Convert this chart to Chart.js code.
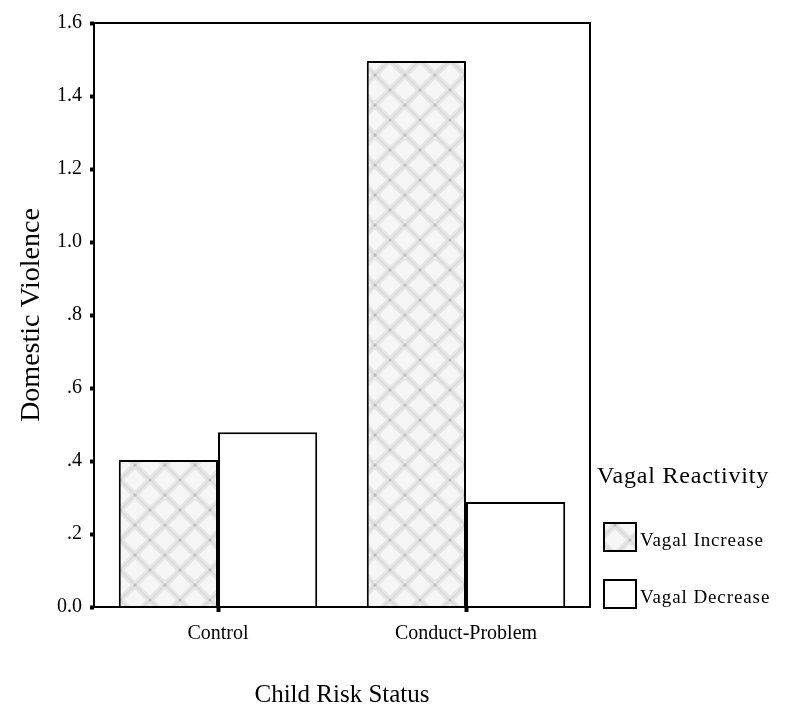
<!DOCTYPE html>
<html><head><meta charset="utf-8">
<script src="https://cdn.jsdelivr.net/npm/chart.js@4/dist/chart.umd.min.js"></script>
<style>html,body{margin:0;padding:0;background:#fff;}#wrap{width:792px;height:721px;}</style>
</head><body><div id="wrap"><canvas id="c" width="792" height="721"></canvas></div>
<script>
const categories = ['Control', 'Conduct-Problem'];
const seriesNames = ['Vagal Increase', 'Vagal Decrease'];
const vagalIncrease = [0.403, 1.496];
const vagalDecrease = [0.479, 0.288];
const yTickValues = [0, 0.2, 0.4, 0.6, 0.8, 1.0, 1.2, 1.4, 1.6];
const legendTitle = 'Vagal Reactivity';
const xAxisTitle = 'Child Risk Status';
const yAxisTitle = 'Domestic Violence';

const SERIF = "'Liberation Serif', 'Times New Roman', serif";

function makePattern() {
  const t = document.createElement('canvas');
  t.width = 30; t.height = 30;
  const g = t.getContext('2d');
  g.fillStyle = '#f6f6f6';
  g.fillRect(0, 0, 30, 30);
  g.lineCap = 'square';
  g.strokeStyle = 'rgba(215,215,215,0.5)';
  g.lineWidth = 6;
  g.beginPath();
  g.moveTo(-2, -2); g.lineTo(32, 32);
  g.moveTo(32, -2); g.lineTo(-2, 32);
  g.stroke();
  g.strokeStyle = '#dcdcdc';
  g.lineWidth = 2;
  g.beginPath();
  g.moveTo(-2, -2); g.lineTo(32, 32);
  g.moveTo(32, -2); g.lineTo(-2, 32);
  g.stroke();
  g.fillStyle = '#bcbcbc';
  [[0,0],[30,0],[0,30],[30,30],[15,15]].forEach(([x,y]) => {
    g.beginPath(); g.arc(x, y, 1.6, 0, Math.PI*2); g.fill();
  });
  return g.createPattern(t, 'repeat');
}
const hatch = makePattern();
const fills = [hatch, '#ffffff'];

function fmtTick(v) {
  const s = Number(v).toFixed(1);
  return (v > 0 && v < 1) ? s.substring(1) : s;
}

const framePlugin = {
  id: 'frame',
  afterDraw(chart) {
    const {ctx, chartArea: a} = chart;
    ctx.save();
    ctx.strokeStyle = '#000';
    ctx.lineWidth = 2;
    ctx.strokeRect(a.left, a.top, a.right - a.left, a.bottom - a.top);
    // legend
    ctx.fillStyle = '#000';
    ctx.textBaseline = 'middle';
    ctx.textAlign = 'left';
    ctx.font = '24px ' + SERIF;
    if ('letterSpacing' in ctx) ctx.letterSpacing = '0.8px';
    ctx.fillText(legendTitle, 597, 477);
    ctx.font = '19px ' + SERIF;
    if ('letterSpacing' in ctx) ctx.letterSpacing = '0.9px';
    const ys = [523, 580];
    chart.data.datasets.forEach((ds, i) => {
      ctx.fillStyle = ds.backgroundColor;
      ctx.fillRect(604, ys[i], 32, 28);
      ctx.strokeStyle = '#000';
      ctx.lineWidth = 2;
      ctx.strokeRect(604, ys[i], 32, 28);
      ctx.fillStyle = '#000';
      ctx.fillText(ds.label, 640, ys[i] + 18);
    });
    ctx.restore();
  }
};

new Chart(document.getElementById('c'), {
  type: 'bar',
  data: {
    labels: categories,
    datasets: [
      { label: seriesNames[0], data: vagalIncrease, backgroundColor: fills[0], borderColor: '#000', borderWidth: 2 },
      { label: seriesNames[1], data: vagalDecrease, backgroundColor: fills[1], borderColor: '#000', borderWidth: 2 }
    ]
  },
  options: {
    responsive: false,
    animation: false,
    devicePixelRatio: 1,
    layout: { padding: { top: 23, right: 202, left: 0, bottom: 0 } },
    datasets: { bar: { categoryPercentage: 0.8, barPercentage: 1.0 } },
    plugins: { legend: { display: false }, tooltip: { enabled: false } },
    scales: {
      x: {
        afterFit(s) { s.height = 114; },
        border: { display: false },
        grid: { offset: false, drawOnChartArea: false, drawTicks: true, tickLength: 5, tickWidth: 4, tickColor: '#000' },
        ticks: { color: '#000', padding: 10, font: { family: SERIF, size: 20 } },
        title: { display: true, text: xAxisTitle, color: '#000', font: { family: SERIF, size: 25 }, padding: { top: 11, bottom: 11 } }
      },
      y: {
        min: 0, max: 1.6,
        afterFit(s) { s.width = 94; },
        afterBuildTicks(s) { s.ticks = yTickValues.map(v => ({ value: v })); },
        border: { display: false },
        grid: { drawOnChartArea: false, drawTicks: true, tickLength: 4, tickWidth: 4, tickColor: '#000' },
        ticks: { color: '#000', padding: 8, callback: fmtTick, font: { family: SERIF, size: 20 } },
        title: { display: true, text: yAxisTitle, color: '#000', font: { family: SERIF, size: 28 }, padding: { top: 15, bottom: 15 } }
      }
    }
  },
  plugins: [framePlugin]
});
</script>
</body></html>
